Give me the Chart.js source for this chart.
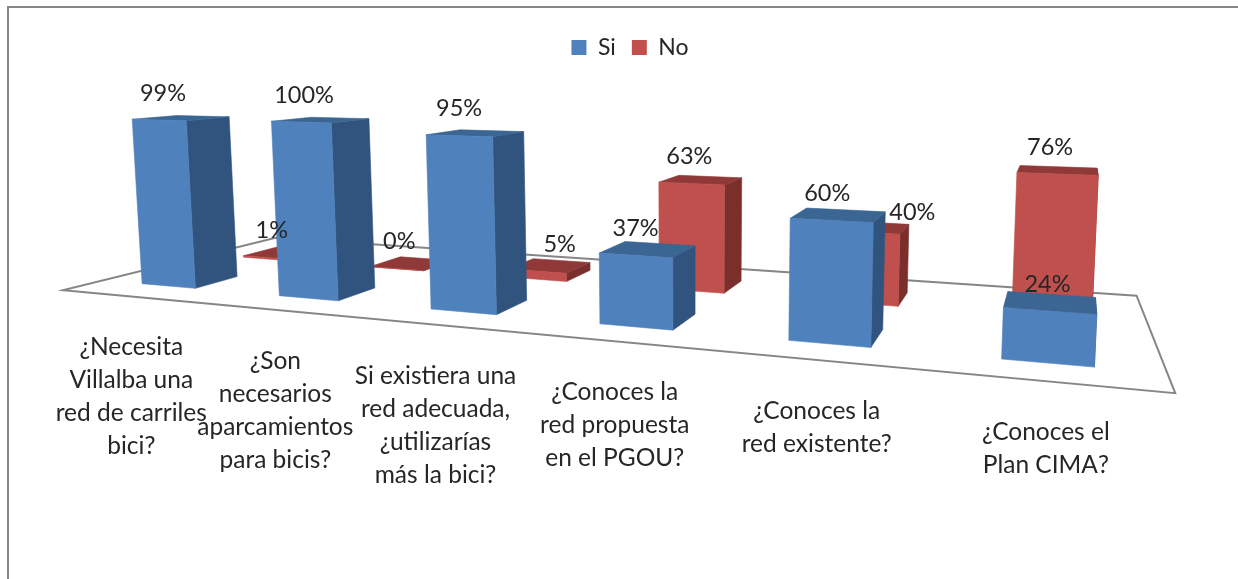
<!DOCTYPE html>
<html lang="es">
<head>
<meta charset="utf-8">
<title>Encuesta bici Villalba</title>
<script src="https://cdn.jsdelivr.net/npm/chart.js@4"></script>
<style>
  html, body { margin: 0; padding: 0; background: #fff; overflow: hidden; }
  #frame { position: absolute; left: 7px; top: 6px; right: 0; height: 573px; border-top: 2px solid #868686; border-left: 2px solid #868686; }
  canvas { position: absolute; left: 0; top: 0; }
</style>
</head>
<body>
<div id="frame"></div>
<canvas id="encuesta" width="1238" height="579"></canvas>
<script>
// Datos
const categories = [
  ['¿Necesita', 'Villalba una', 'red de carriles', 'bici?'],
  ['¿Son', 'necesarios', 'aparcamientos', 'para bicis?'],
  ['Si existiera una', 'red adecuada,', '¿utilizarías', 'más la bici?'],
  ['¿Conoces la', 'red propuesta', 'en el PGOU?'],
  ['¿Conoces la', 'red existente?'],
  ['¿Conoces el', 'Plan CIMA?']
];
const siValues = [99, 100, 95, 37, 60, 24];
const noValues = [1, 0, 5, 63, 40, 76];

// Desplazamiento de etiquetas que en el original no van centradas
const siLabelShiftX = [4, 3, 0, 0, -4, -2];
const noLabelShiftX = [4, 3, 23, -2, 49, -7];
const noLabelShiftY = [0, 0, 0, 0, 7, 0];

const FONT_FAMILY = 'Lato, "Open Sans", sans-serif';
const TEXT_COLOR = '#262626';

// Camara de la vista 3D: t = posicion en el eje x, h = valor, z = profundidad
function project(t, h, z) {
  const w = 1.32 - 0.32 * t - 0.00024 * h + 0.065 * z;
  return {
    x: (825 * t + 222.4 - 0.165 * h + 69.9 * z) / w,
    y: (377.5 - 14.5 * t - 2.242 * h + 2.6 * z) / w
  };
}

function poly(ctx, pts, fill) {
  ctx.beginPath();
  pts.forEach((p, i) => i ? ctx.lineTo(p.x, p.y) : ctx.moveTo(p.x, p.y));
  ctx.closePath();
  ctx.fillStyle = fill;
  ctx.strokeStyle = fill;
  ctx.lineWidth = 0.6;
  ctx.fill();
  ctx.stroke();
}

// Dibuja las barras, el suelo y los textos en perspectiva a partir de las escalas
const perspectiva = {
  id: 'perspectiva',
  beforeDatasetsDraw(chart) {
    const ctx = chart.ctx;
    const xs = chart.scales.x, ys = chart.scales.y;
    const x0 = xs.getPixelForValue(0), x5 = xs.getPixelForValue(5);
    const toT = px => (px - x0) / (x5 - x0);

    // suelo
    const tL = toT(xs.left), tR = toT(xs.right);
    const zF = -0.82, zB = 4.48;
    const corners = [project(tL, 0, zF), project(tR + 0.002, 0, zF), project(tR - 0.01, 0, zB), project(tL, 0, zB)];
    ctx.save();
    ctx.beginPath();
    corners.forEach((p, i) => i ? ctx.lineTo(p.x, p.y) : ctx.moveTo(p.x, p.y));
    ctx.closePath();
    ctx.strokeStyle = '#868686';
    ctx.lineWidth = 2;
    ctx.stroke();

    // primero la serie No (detras) y luego Si
    [1, 0].forEach(di => {
      const ds = chart.data.datasets[di];
      const z0 = ds.depth, z1 = ds.depth + 1;
      chart.getDatasetMeta(di).data.forEach(bar => {
        const a = toT(bar.x - bar.width / 2), b = toT(bar.x + bar.width / 2);
        const h = ys.getValueForPixel(bar.y);
        poly(ctx, [project(b, 0, z0), project(b, 0, z1), project(b, h, z1), project(b, h, z0)], ds.sideColor);
        poly(ctx, [project(a, h, z0), project(b, h, z0), project(b, h, z1), project(a, h, z1)], ds.topColor);
        poly(ctx, [project(a, 0, z0), project(b, 0, z0), project(b, h, z0), project(a, h, z0)], ds.backgroundColor);
      });
    });
    ctx.restore();
    return false;
  },
  // afterDatasetsDraw no se llama si se cancela el dibujo, por eso afterDraw
  afterDraw(chart) {
    const ctx = chart.ctx;
    const xs = chart.scales.x, ys = chart.scales.y;
    const x0 = xs.getPixelForValue(0), x5 = xs.getPixelForValue(5);
    const toT = px => (px - x0) / (x5 - x0);
    ctx.save();
    ctx.fillStyle = TEXT_COLOR;
    ctx.textAlign = 'center';
    ctx.textBaseline = 'middle';

    // etiquetas del eje sobre el borde delantero del suelo
    ctx.font = '24.5px ' + FONT_FAMILY;
    chart.data.labels.forEach((lines, i) => {
      const p = project(toT(xs.getPixelForValue(i)), 0, -0.8);
      lines.forEach((line, n) => ctx.fillText(line, p.x, p.y + 51.5 + n * 33));
    });

    // valores encima de cada barra
    ctx.font = '23.5px ' + FONT_FAMILY;
    chart.data.datasets.forEach((ds, di) => {
      chart.getDatasetMeta(di).data.forEach((bar, i) => {
        const p = project(toT(bar.x), ys.getValueForPixel(bar.y), ds.depth);
        const dx = (di === 0 ? siLabelShiftX : noLabelShiftX)[i];
        const dy = di === 0 ? 0 : noLabelShiftY[i];
        ctx.fillText(ds.data[i] + '%', p.x + dx, p.y - 27 + dy);
      });
    });
    ctx.restore();
  }
};

new Chart(document.getElementById('encuesta').getContext('2d'), {
  type: 'bar',
  data: {
    labels: categories,
    datasets: [
      { label: 'Si', data: siValues, backgroundColor: '#4F81BD', sideColor: '#31547F', topColor: '#3B6592', depth: 0, grouped: false },
      { label: 'No', data: noValues, backgroundColor: '#C0504D', sideColor: '#7A2F2D', topColor: '#8F3A38', depth: 2.5, grouped: false }
    ]
  },
  options: {
    responsive: false,
    animation: false,
    barPercentage: 0.4,
    categoryPercentage: 1,
    layout: { padding: { left: 22, top: 20 } },
    scales: {
      x: { display: false },
      y: { display: false, min: 0, max: 100 }
    },
    plugins: {
      tooltip: { enabled: false },
      legend: {
        position: 'top',
        labels: {
          boxWidth: 15,
          boxHeight: 15,
          padding: 16,
          color: TEXT_COLOR,
          font: { family: FONT_FAMILY, size: 23 }
        }
      }
    }
  },
  plugins: [perspectiva]
});
</script>
</body>
</html>
